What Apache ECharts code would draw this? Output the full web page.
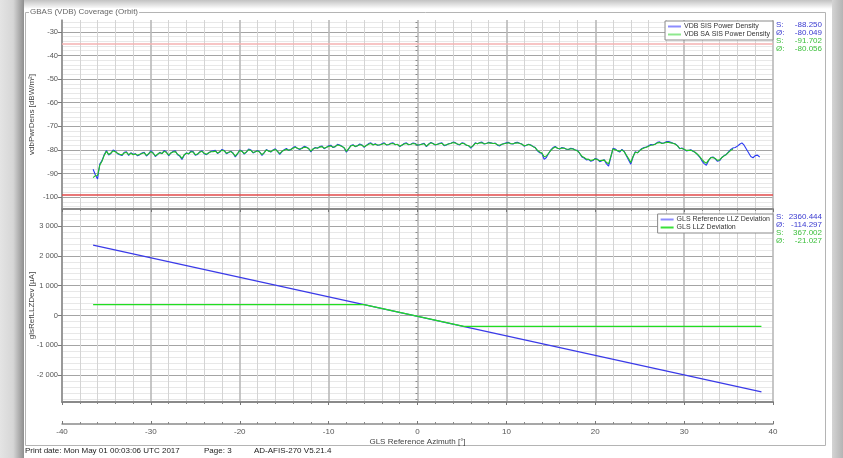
<!DOCTYPE html>
<html>
<head>
<meta charset="utf-8">
<script src="https://cdn.jsdelivr.net/npm/echarts@6/dist/echarts.min.js"></script>
<style>
html, body { margin: 0; padding: 0; background: #fff; }
#c { width: 843px; height: 458px; }
</style>
</head>
<body>
<div id="c"></div>
<script>
// Azimuth samples [deg], whole and half steps
const azimuth = [
  -36.5,-36,-35.5,-35,-34.5,-34,-33.5,-33,-32.5,-32,-31.5,-31,-30.5,-30,-29.5,-29,-28.5,-28,-27.5,-27,
  -26.5,-26,-25.5,-25,-24.5,-24,-23.5,-23,-22.5,-22,-21.5,-21,-20.5,-20,-19.5,-19,-18.5,-18,-17.5,-17,
  -16.5,-16,-15.5,-15,-14.5,-14,-13.5,-13,-12.5,-12,-11.5,-11,-10.5,-10,-9.5,-9,-8.5,-8,-7.5,-7,
  -6.5,-6,-5.5,-5,-4.5,-4,-3.5,-3,-2.5,-2,-1.5,-1,-0.5,0,0.5,1,1.5,2,2.5,3,
  3.5,4,4.5,5,5.5,6,6.5,7,7.5,8,8.5,9,9.5,10,10.5,11,11.5,12,12.5,13,
  13.5,14,14.5,15,15.5,16,16.5,17,17.5,18,18.5,19,19.5,20,20.5,21,21.5,22,22.5,23,
  23.5,24,24.5,25,25.5,26,26.5,27,27.5,28,28.5,29,29.5,30,30.5,31,31.5,32,32.5,33,
  33.5,34,34.5,35,35.5,36,36.5,37,37.5,38,38.5
];
// Azimuth samples [deg], quarter steps in between
const azimuthMid = [
  -36.25,-35.75,-35.25,-34.75,-34.25,-33.75,-33.25,-32.75,-32.25,-31.75,-31.25,-30.75,-30.25,-29.75,-29.25,-28.75,-28.25,-27.75,-27.25,-26.75,
  -26.25,-25.75,-25.25,-24.75,-24.25,-23.75,-23.25,-22.75,-22.25,-21.75,-21.25,-20.75,-20.25,-19.75,-19.25,-18.75,-18.25,-17.75,-17.25,-16.75,
  -16.25,-15.75,-15.25,-14.75,-14.25,-13.75,-13.25,-12.75,-12.25,-11.75,-11.25,-10.75,-10.25,-9.75,-9.25,-8.75,-8.25,-7.75,-7.25,-6.75,
  -6.25,-5.75,-5.25,-4.75,-4.25,-3.75,-3.25,-2.75,-2.25,-1.75,-1.25,-0.75,-0.25,0.25,0.75,1.25,1.75,2.25,2.75,3.25,
  3.75,4.25,4.75,5.25,5.75,6.25,6.75,7.25,7.75,8.25,8.75,9.25,9.75,10.25,10.75,11.25,11.75,12.25,12.75,13.25,
  13.75,14.25,14.75,15.25,15.75,16.25,16.75,17.25,17.75,18.25,18.75,19.25,19.75,20.25,20.75,21.25,21.75,22.25,22.75,23.25,
  23.75,24.25,24.75,25.25,25.75,26.25,26.75,27.25,27.75,28.25,28.75,29.25,29.75,30.25,30.75,31.25,31.75,32.25,32.75,33.25,
  33.75,34.25,34.75,35.25,35.75,36.25,36.75,37.25,37.75,38.25
];

// VDB SIS power density [dBW/m²]
const vdbPower = [
  -88.2,-92.3,-84.5,-80.2,-81.5,-80.4,-82.0,-81.0,-82.3,-81.8,-82.5,-81.3,-82.6,-80.3,-82.8,-81.0,-80.2,-82.5,-80.6,-82.0,
  -84.0,-81.2,-80.5,-82.2,-80.8,-81.6,-81.2,-80.4,-81.5,-79.8,-81.6,-80.5,-83.0,-80.0,-81.8,-79.6,-81.3,-80.2,-82.3,-79.8,
  -80.9,-79.5,-81.9,-79.9,-80.2,-79.0,-79.4,-79.2,-78.8,-80.8,-79.0,-78.6,-79.5,-78.2,-79.0,-77.6,-78.4,-81.0,-78.1,-78.6,
  -77.5,-78.9,-77.3,-77.8,-78.0,-77.4,-77.9,-77.2,-77.8,-78.6,-77.3,-77.8,-77.1,-78.0,-77.5,-78.6,-76.8,-77.9,-77.2,-78.2,
  -77.4,-76.7,-77.6,-77.0,-78.0,-79.2,-77.0,-76.9,-77.5,-76.8,-77.3,-78.0,-77.6,-77.0,-77.4,-76.9,-77.2,-78.4,-77.6,-78.5,
  -80.4,-81.5,-83.2,-80.0,-78.5,-79.6,-79.2,-79.8,-79.5,-80.2,-83.0,-84.2,-84.8,-83.6,-85.0,-84.1,-86.8,-79.3,-80.4,-79.8,
  -82.5,-86.0,-80.8,-80.2,-79.0,-78.2,-77.8,-76.8,-77.2,-76.5,-76.8,-77.4,-79.5,-79.8,-80.2,-80.6,-82.0,-84.6,-86.5,-83.2,
  -83.8,-84.5,-82.4,-80.8,-79.2,-78.4,-77.0,-79.6,-82.8,-82.4,-83.0
];
const vdbPowerMid = [
  -90.5,-86.0,-82.0,-82.2,-80.0,-81.6,-82.4,-80.8,-81.2,-81.6,-82.0,-81.0,-81.7,-81.2,-82.0,-81.6,-80.9,-81.3,-80.4,-82.6,
  -82.2,-81.7,-80.7,-81.9,-80.3,-82.0,-80.6,-80.2,-80.9,-80.2,-81.1,-81.4,-81.7,-80.4,-80.9,-80.0,-80.8,-80.9,-81.2,-80.5,
  -80.0,-80.6,-80.7,-79.4,-79.8,-78.6,-79.8,-78.5,-79.4,-79.6,-79.3,-78.3,-78.9,-78.0,-78.6,-77.9,-79.2,-79.6,-77.8,-78.2,
  -77.9,-78.1,-77.0,-77.4,-77.9,-77.0,-77.8,-77.0,-77.6,-78.0,-77.0,-77.6,-77.3,-77.8,-77.2,-77.6,-77.3,-77.6,-77.0,-77.9,
  -77.2,-76.9,-77.9,-77.2,-78.2,-78.3,-77.4,-76.7,-77.3,-77.0,-77.1,-78.3,-77.3,-76.8,-77.5,-76.8,-77.5,-78.0,-77.9,-79.0,
  -81.2,-84.0,-81.5,-79.0,-79.3,-79.0,-79.7,-79.3,-80.0,-81.5,-83.4,-84.0,-84.5,-83.9,-84.6,-85.8,-83.0,-79.6,-80.9,-80.6,
  -84.3,-83.0,-81.2,-79.4,-78.8,-77.7,-77.5,-76.6,-77.0,-76.4,-77.2,-78.2,-79.2,-80.4,-79.9,-81.0,-83.0,-85.8,-84.6,-83.0,
  -84.8,-83.2,-81.9,-79.8,-79.0,-77.6,-78.0,-81.2,-83.3,-82.2
];

// VDB SA SIS power density [dBW/m²] (ends at 35.5°)
const vdbPowerSA = [
  -91.7,-90.8,-84.8,-80.6,-81.3,-80.8,-81.8,-81.3,-82.0,-82.0,-82.2,-81.5,-82.3,-80.7,-82.5,-81.2,-80.6,-82.2,-80.9,-81.8,
  -83.6,-81.4,-80.8,-82.0,-81.0,-81.4,-81.3,-80.7,-81.3,-80.1,-81.4,-80.7,-82.6,-80.3,-81.5,-79.9,-81.1,-80.4,-82.0,-80.0,
  -80.7,-79.8,-81.6,-80.1,-80.1,-79.3,-79.3,-79.4,-79.0,-80.5,-79.2,-78.8,-79.3,-78.5,-78.9,-77.9,-78.5,-80.6,-78.3,-78.5,
  -77.8,-78.7,-77.6,-77.9,-77.9,-77.6,-77.8,-77.4,-77.7,-78.4,-77.5,-77.7,-77.3,-77.9,-77.6,-78.4,-77.0,-77.8,-77.4,-78.0,
  -77.5,-76.9,-77.5,-77.2,-77.9,-78.9,-77.2,-77.0,-77.4,-77.0,-77.3,-77.8,-77.6,-77.2,-77.4,-77.1,-77.3,-78.2,-77.7,-78.6,
  -80.2,-81.3,-82.6,-80.2,-78.8,-79.5,-79.3,-79.7,-79.6,-80.4,-82.7,-83.9,-84.5,-83.8,-84.6,-84.3,-85.9,-79.6,-80.3,-80.0,
  -82.2,-85.3,-81.0,-80.3,-79.2,-78.4,-77.9,-77.0,-77.3,-76.8,-77.0,-77.6,-79.3,-79.7,-80.2,-80.5,-81.8,-84.0,-85.6,-83.3,
  -83.6,-84.2,-82.5,-81.0,-79.6
];
const vdbPowerSAMid = [
  -90.9,-86.5,-82.3,-81.9,-80.4,-81.4,-82.1,-81.0,-81.4,-81.7,-81.8,-81.2,-81.6,-81.4,-81.8,-81.5,-81.1,-81.3,-80.7,-82.4,
  -82.0,-81.6,-80.9,-81.7,-80.6,-81.8,-80.8,-80.5,-80.8,-80.4,-81.0,-81.4,-81.5,-80.6,-80.8,-80.2,-80.8,-81.0,-81.1,-80.5,
  -80.1,-80.6,-80.6,-79.7,-79.8,-78.9,-79.6,-78.8,-79.4,-79.6,-79.2,-78.6,-78.9,-78.3,-78.5,-78.1,-79.1,-79.4,-78.0,-78.2,
  -78.0,-78.1,-77.3,-77.6,-77.8,-77.3,-77.7,-77.3,-77.7,-77.9,-77.3,-77.6,-77.5,-77.8,-77.4,-77.6,-77.4,-77.6,-77.2,-77.8,
  -77.3,-77.1,-77.7,-77.4,-78.2,-78.2,-77.4,-77.0,-77.3,-77.1,-77.3,-78.0,-77.4,-77.0,-77.4,-77.0,-77.6,-78.0,-78.0,-79.1,
  -80.9,-82.9,-81.4,-79.3,-79.3,-79.2,-79.6,-79.5,-80.0,-81.4,-83.2,-84.0,-84.2,-84.1,-84.4,-85.2,-82.8,-79.9,-80.5,-80.7,
  -83.6,-82.8,-81.2,-79.6,-78.9,-78.0,-77.6,-76.9,-77.1,-76.8,-77.2,-78.3,-79.4,-80.2,-80.1,-81.1,-82.8,-85.0,-84.3,-83.2,
  -84.4,-83.2,-81.9,-80.2
];

// Power density limits [dBW/m²]
const powerLimits = [-35, -99];

// GLS localizer deviation [µA] vs azimuth
const llzRefAzimuth = [-36.5, 38.7];
const llzRefDeviation = [2360.444, -2560];
const llzAzimuth = [-36.5, -6.0, 5.2, 38.7];
const llzDeviation = [367.002, 367.002, -367.002, -367.002];

// Tick values
const powerTicks = [-100, -90, -80, -70, -60, -50, -40, -30];
const deviationTicks = [-2000, -1000, 0, 1000, 2000, 3000];

// Legend statistics (S = start value, Ø = mean)
const powerStats = [
  ['S:', '-88.250'], ['Ø:', '-80.049'], ['S:', '-91.702'], ['Ø:', '-80.056']
];
const deviationStats = [
  ['S:', '2360.444'], ['Ø:', '-114.297'], ['S:', '367.002'], ['Ø:', '-21.027']
];

const FONT = '"Liberation Sans", Arial, sans-serif';
const BLUE = '#2b3bf2';
const GREEN = '#22c322';
const BLUE_TXT = '#3a3ad0';
const GREEN_TXT = '#3cbf3c';

function zip(xs, ys) { return ys.map((y, i) => [xs[i], y]); }
// merge whole-step and quarter-step samples in azimuth order
function interleave(xa, ya, xb, yb) {
  const out = [];
  ya.forEach((y, i) => {
    out.push([xa[i], y]);
    if (i < yb.length) out.push([xb[i], yb[i]]);
  });
  return out.sort((p, q) => p[0] - q[0]);
}
function minorSteps(lo, hi, step, major) {
  const out = [];
  for (let v = lo; v <= hi; v += step) if (v % major !== 0) out.push(v);
  return out;
}
function thousands(v) {
  const s = String(Math.abs(v)).replace(/\B(?=(\d{3})+(?!\d))/g, ' ');
  return (v < 0 ? '-' : '') + s;
}

const PLOT_L = 62, PLOT_W = 711;
const grids = [
  { left: PLOT_L, top: 20, width: PLOT_W, height: 189 },
  { left: PLOT_L, top: 209, width: PLOT_W, height: 193 }
];

function gridXAxis(gi) {
  return {
    gridIndex: gi, type: 'value', min: -40, max: 40, interval: 10, position: 'bottom',
    axisLine: { show: true, onZero: false, lineStyle: { color: '#8a8a8a', width: 2 } },
    axisTick: { show: true, length: 3, lineStyle: { color: '#777' } },
    minorTick: { show: true, splitNumber: 5, length: 2, lineStyle: { color: '#888' } },
    axisLabel: { show: false },
    splitLine: { show: true, lineStyle: { color: '#b8b8b8', width: 1.6 } },
    minorSplitLine: { show: true, lineStyle: { color: '#d4d4d4', width: 1 } }
  };
}

function minorYAxis(gi, min, max, values) {
  return {
    gridIndex: gi, type: 'value', min, max, position: 'left',
    axisLine: { show: false },
    axisTick: { show: true, length: 2, customValues: values, lineStyle: { color: '#888' } },
    axisLabel: { show: false },
    splitLine: { show: true, lineStyle: { color: '#e8e8e8', width: 1 } }
  };
}

function majorYAxis(gi, min, max, values, name, fmt) {
  return {
    gridIndex: gi, type: 'value', min, max, position: 'left',
    name, nameLocation: 'middle', nameGap: 26, nameRotate: 90, nameMoveOverlap: false,
    nameTextStyle: { fontFamily: FONT, fontSize: 8, color: '#444' },
    axisLine: { show: true, onZero: false, lineStyle: { color: '#8a8a8a', width: 1.5 } },
    axisTick: { show: true, length: 4, customValues: values, lineStyle: { color: '#777' } },
    axisLabel: {
      show: true, customValues: values, margin: 4,
      fontFamily: FONT, fontSize: 7.5, color: '#555', formatter: fmt
    },
    splitLine: { show: true, lineStyle: { color: '#a4a4a4', width: 1 } }
  };
}

const chart = echarts.init(document.getElementById('c'));

function legendItem(name, color) {
  return { name, icon: 'rect', itemStyle: { color, borderWidth: 0, opacity: 1 } };
}
const legendBase = {
  right: 843 - (PLOT_L + PLOT_W), orient: 'vertical',
  backgroundColor: '#fff', borderColor: '#8a8a8a', borderWidth: 1,
  padding: [2, 3, 2, 3], itemGap: 1, itemWidth: 13, itemHeight: 2,
  selectedMode: false, inactiveColor: '#8c8cff',
  textStyle: { fontFamily: FONT, fontSize: 7, color: '#333', padding: [0, 0, 0, -2] }
};

const option = {
  animation: false,
  backgroundColor: '#ffffff',
  grid: grids,
  xAxis: [
    gridXAxis(0),
    gridXAxis(1),
    {
      gridIndex: 1, type: 'value', min: -40, max: 40, interval: 10, position: 'bottom', offset: 22,
      name: 'GLS Reference Azimuth [°]', nameLocation: 'middle', nameGap: 14,
      nameTextStyle: { fontFamily: FONT, fontSize: 8, color: '#444' },
      axisLine: { show: true, onZero: false, lineStyle: { color: '#8a8a8a', width: 1.5 } },
      axisTick: { show: true, inside: true, length: 3, lineStyle: { color: '#777' } },
      minorTick: { show: true, splitNumber: 5, length: 2, lineStyle: { color: '#888' } },
      axisLabel: { show: true, margin: 4, fontFamily: FONT, fontSize: 8, color: '#555' },
      splitLine: { show: false }
    }
  ],
  yAxis: [
    minorYAxis(0, -105, -25, minorSteps(-104, -26, 2, 10)),
    majorYAxis(0, -105, -25, powerTicks, 'vdbPwrDens [dBW/m²]', v => String(v)),
    minorYAxis(1, -2900, 3570, minorSteps(-2800, 3400, 200, 1000)),
    majorYAxis(1, -2900, 3570, deviationTicks, 'glsRefLLZDev [µA]', thousands)
  ],
  legend: [
    Object.assign({}, legendBase, {
      top: 21,
      data: [legendItem('VDB SIS Power Density', '#8c8cff'), legendItem('VDB SA SIS Power Density', '#8ee88e')]
    }),
    Object.assign({}, legendBase, {
      top: 214,
      data: [legendItem('GLS Reference LLZ Deviation', '#8c8cff'), legendItem('GLS LLZ Deviation', '#3ae03a')]
    })
  ],
  series: [
    {
      name: 'VDB SIS Power Density', type: 'line', xAxisIndex: 0, yAxisIndex: 1,
      data: interleave(azimuth, vdbPower, azimuthMid, vdbPowerMid), symbol: 'none',
      lineStyle: { color: BLUE, width: 1.1 }, itemStyle: { color: BLUE },
      markLine: {
        silent: true, symbol: ['none', 'none'], label: { show: false },
        data: [
          { yAxis: powerLimits[0], lineStyle: { color: '#f4b2b2', width: 1.5, type: 'solid' } },
          { yAxis: powerLimits[1], lineStyle: { color: '#e24a4a', width: 1.5, type: 'solid' } }
        ]
      }
    },
    {
      name: 'VDB SA SIS Power Density', type: 'line', xAxisIndex: 0, yAxisIndex: 1,
      data: interleave(azimuth, vdbPowerSA, azimuthMid, vdbPowerSAMid), symbol: 'none',
      lineStyle: { color: GREEN, width: 1.1 }, itemStyle: { color: GREEN }
    },
    {
      name: 'GLS Reference LLZ Deviation', type: 'line', xAxisIndex: 1, yAxisIndex: 3,
      data: zip(llzRefAzimuth, llzRefDeviation), symbol: 'none',
      lineStyle: { color: '#3a3ae8', width: 1.2 }, itemStyle: { color: '#3a3ae8' }
    },
    {
      name: 'GLS LLZ Deviation', type: 'line', xAxisIndex: 1, yAxisIndex: 3,
      data: zip(llzAzimuth, llzDeviation), symbol: 'none',
      lineStyle: { color: '#22dd22', width: 1.2 }, itemStyle: { color: '#22dd22' }
    }
  ],
  graphic: []
};

// Page, shadows, frame and footer
const g = option.graphic;
g.push({ type: 'rect', z: -10, shape: { x: 0, y: 0, width: 24, height: 458 },
  style: { fill: new echarts.graphic.LinearGradient(0, 0, 1, 0, [
    { offset: 0, color: '#e4e4e4' }, { offset: 0.55, color: '#d6d6d6' }, { offset: 0.85, color: '#a6a6a6' }, { offset: 1, color: '#8e8e8e' }]) } });
g.push({ type: 'rect', z: -10, shape: { x: 832, y: 0, width: 11, height: 458 },
  style: { fill: new echarts.graphic.LinearGradient(0, 0, 1, 0, [
    { offset: 0, color: '#d4d4d4' }, { offset: 1, color: '#b4b4b4' }]) } });
g.push({ type: 'rect', z: -10, shape: { x: 24, y: 0, width: 808, height: 9 },
  style: { fill: new echarts.graphic.LinearGradient(0, 0, 0, 1, [
    { offset: 0, color: '#c2c2c2' }, { offset: 1, color: '#ffffff' }]) } });
g.push({ type: 'rect', z: -5, shape: { x: 25.5, y: 12.5, width: 800, height: 433 },
  style: { fill: 'none', stroke: '#b4b4b4', lineWidth: 1 } });
g.push({ type: 'text', z: 10, x: 29, y: 12,
  style: { text: 'GBAS (VDB) Coverage (Orbit)', font: '8px ' + FONT, fill: '#666',
    verticalAlign: 'middle', backgroundColor: '#fff', padding: [0, 1, 0, 1] } });

// Legend statistics
function statBlock(stats, top) {
  stats.forEach((s, i) => {
    const col = i < 2 ? BLUE_TXT : GREEN_TXT;
    const y = top + i * 8;
    g.push({ type: 'text', z: 10, x: 776, y, style: { text: s[0], font: '8px ' + FONT, fill: col, verticalAlign: 'middle' } });
    g.push({ type: 'text', z: 10, x: 822, y, style: { text: s[1], font: '8px ' + FONT, fill: col, align: 'right', verticalAlign: 'middle' } });
  });
}
statBlock(powerStats, 25);
statBlock(deviationStats, 217);

// Footer
[['Print date: Mon May 01 00:03:06 UTC 2017', 25], ['Page: 3', 204], ['AD-AFIS-270 V5.21.4', 254]].forEach(f => {
  g.push({ type: 'text', z: 10, x: f[1], y: 451, style: { text: f[0], font: '8px ' + FONT, fill: '#222', verticalAlign: 'middle' } });
});

chart.setOption(option);
</script>
</body>
</html>
